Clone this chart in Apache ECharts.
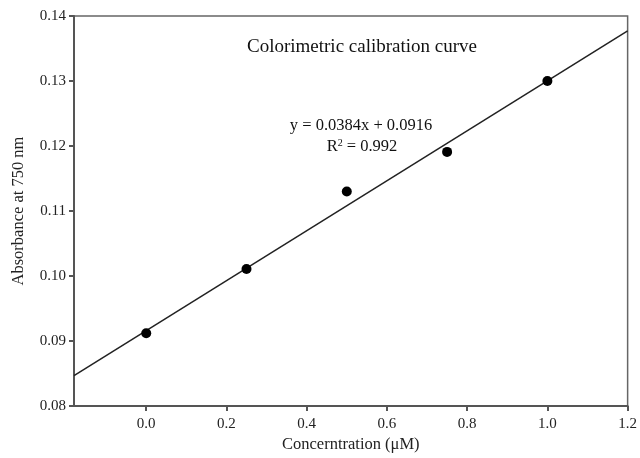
<!DOCTYPE html>
<html>
<head>
<meta charset="utf-8">
<script src="https://cdn.jsdelivr.net/npm/echarts@6/dist/echarts.min.js"></script>
<style>html,body{margin:0;padding:0;background:#fff}#c{width:640px;height:458px}</style>
</head>
<body>
<div id="c"></div>
<script>
const concentration = [0.0, 0.25, 0.5, 0.75, 1.0];
const absorbance = [0.0912, 0.1011, 0.1130, 0.1191, 0.1300];
const trendX = [-0.18, 1.2];
const trendY = [0.0847, 0.1377];
const xTicks = [0.0, 0.2, 0.4, 0.6, 0.8, 1.0, 1.2];
const chartTitle = 'Colorimetric calibration curve';
const equationText = 'y = 0.0384x + 0.0916';
const r2Value = '0.992';
const xName = 'Concerntration (μM)';
const yName = 'Absorbance at 750 nm';

const font = 'Liberation Serif';
const chart = echarts.init(document.getElementById('c'), null, {renderer: 'canvas'});
chart.setOption({
  animation: false,
  backgroundColor: '#fff',
  grid: {left: 74, right: 9, top: 16, bottom: 51, show: true, borderColor: '#666', borderWidth: 1.5, backgroundColor: 'transparent'},
  xAxis: {
    type: 'value', min: -0.18, max: 1.2,
    name: xName, nameLocation: 'middle', nameGap: 27,
    nameTextStyle: {fontFamily: font, fontSize: 16.5, color: '#222'},
    axisLine: {show: true, onZero: false, lineStyle: {color: '#555', width: 2}},
    axisTick: {show: true, length: 5, customValues: xTicks, lineStyle: {color: '#555', width: 2}},
    axisLabel: {customValues: xTicks, margin: 10, fontFamily: font, fontSize: 15, color: '#222', formatter: v => v.toFixed(1)},
    splitLine: {show: false}
  },
  yAxis: {
    type: 'value', min: 0.08, max: 0.14, interval: 0.01,
    name: yName, nameLocation: 'middle', nameGap: 47,
    nameTextStyle: {fontFamily: font, fontSize: 16.5, color: '#222'},
    axisLine: {show: true, onZero: false, lineStyle: {color: '#555', width: 2}},
    axisTick: {show: true, length: 5, lineStyle: {color: '#555', width: 2}},
    axisLabel: {margin: 8, fontFamily: font, fontSize: 15, color: '#222', formatter: v => v.toFixed(2)},
    splitLine: {show: false}
  },
  graphic: [
    {type: 'text', x: 362, y: 47, style: {text: chartTitle, font: '19px "Liberation Serif"', fill: '#111', align: 'center', verticalAlign: 'middle'}},
    {type: 'text', x: 361, y: 126, style: {text: equationText, font: '16.5px "Liberation Serif"', fill: '#111', align: 'center', verticalAlign: 'middle'}},
    {type: 'text', x: 362, y: 147, style: {text: 'R{sup|2} = ' + r2Value, font: '16.5px "Liberation Serif"', fill: '#111', align: 'center', verticalAlign: 'middle',
      rich: {sup: {fontSize: 10, fontFamily: font, verticalAlign: 'top', padding: [0, 0, 8, 0], fill: '#111'}}}}
  ],
  series: [
    {type: 'line', data: trendX.map((x, i) => [x, trendY[i]]), symbol: 'none', lineStyle: {color: '#222', width: 1.5}, z: 2},
    {type: 'scatter', data: concentration.map((x, i) => [x, absorbance[i]]), symbol: 'circle', symbolSize: 10, itemStyle: {color: '#000', opacity: 1}, z: 3}
  ]
});
</script>
</body>
</html>
